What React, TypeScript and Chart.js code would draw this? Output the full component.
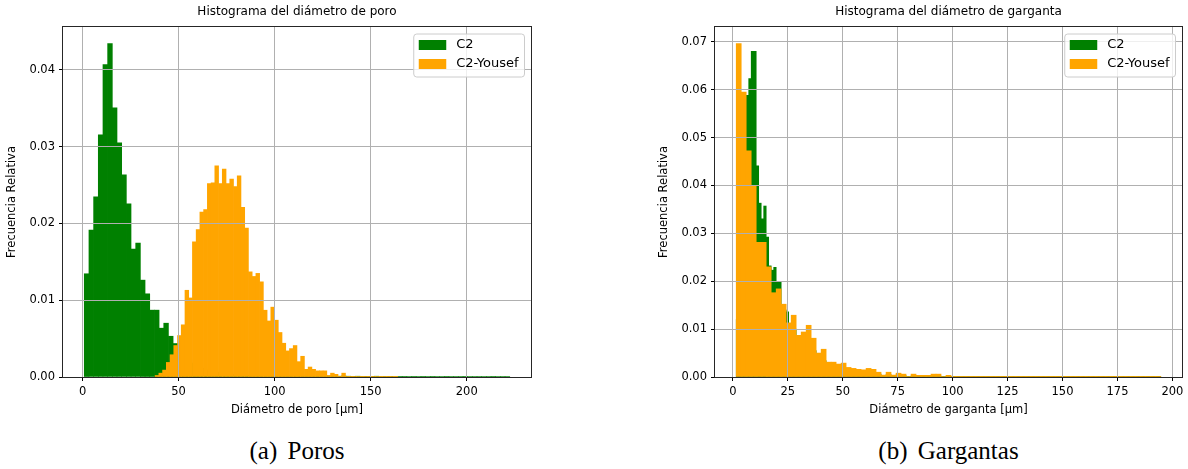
import React, { useEffect, useRef } from 'react';
import { Chart, registerables } from 'chart.js';

Chart.register(...registerables);

const FONT = "'DejaVu Sans', sans-serif";
const GREEN = '#008000';
const ORANGE = '#ffa500';
const SERIES_LABELS = ['C2', 'C2-Yousef'];
const Y_LABEL = 'Frecuencia Relativa';

// ---------- (a) Poros ----------
const poreTitle = 'Histograma del diámetro de poro';
const poreXLabel = 'Diámetro de poro [μm]';
const poreCaption = '(a) Poros';

// C2: 91 bins between 0.89 and 222.38 µm
const poreC2Range = [0.89, 222.38];
const poreC2Bins = 91;
const poreC2 = [
  0.01345, 0.01915, 0.02346, 0.03155, 0.04069, 0.04343, 0.03508, 0.03051, 0.02633, 0.02255,
  0.01667, 0.01745, 0.01262, 0.01084, 0.00871, 0.00871, 0.00636, 0.00701, 0.00531, 0.00436,
  0.0035, 0.0029, 0.0023, 0.0018, 0.0014, 0.0011, 0.0009, 0.0007, 0.0006, 0.0005,
  0.0004, 0.00035, 0.0003, 0.00028, 0.00025, 0.00022, 0.0002, 0.0002, 0.00018, 0.00018,
  0.00017, 0.00016, 0.00016, 0.00015, 0.00015, 0.00014, 0.00014, 0.00013, 0.00013, 0.00012,
  0.00012, 0.00012, 0.00011, 0.00011, 0.0001, 0.00012, 0.0001, 0.00009, 0.0001, 0.00008,
  0.00009, 0.00008, 0.0001, 0.00007, 0.00008, 0.00009, 0.00007, 0.00008, 0.00008, 0.00006,
  0.00008, 0.00007, 0.00008, 0.00006, 0.00008, 0.00007, 0.00006, 0.00008, 0.00007, 0.00006,
  0.00007, 0.00008, 0.00006, 0.00007, 0.00006, 0.00007, 0.00006, 0.00005, 0.00007, 0.00006,
  0.00007,
];

// C2-Yousef: 65 bins between 37.77 and 164.07 µm
const poreYousefRange = [37.77, 164.07];
const poreYousefBins = 65;
const poreYousef = [
  0.0002, 0.0005, 0.0009, 0.0019, 0.0029, 0.0041, 0.0054, 0.0068, 0.0113, 0.0103,
  0.0176, 0.0192, 0.0215, 0.0218, 0.0252, 0.0253, 0.0275, 0.0252, 0.0271, 0.0252,
  0.0258, 0.0248, 0.0262, 0.0221, 0.0194, 0.0137, 0.0131, 0.0135, 0.0124, 0.0087,
  0.0073, 0.0091, 0.0074, 0.0058, 0.0044, 0.0034, 0.0037, 0.0041, 0.002, 0.0027,
  0.001, 0.0013, 0.001, 0.0008, 0.0008, 0.0008, 0.0002, 0.0005, 0.00035, 0.0001,
  0.0005, 0.00005, 0.00004, 0.00005, 0.00006, 0.00004, 0.00005, 0.00004, 0.00005, 0.00006,
  0.00004, 0.00005, 0.00004, 0.00005, 0.00004,
];

const poreXTicks = [0, 50, 100, 150, 200];
const poreYTicks = [0, 0.01, 0.02, 0.03, 0.04];

// ---------- (b) Gargantas ----------
const throatTitle = 'Histograma del diámetro de garganta';
const throatXLabel = 'Diámetro de garganta [μm]';
const throatCaption = '(b) Gargantas';

// both series share the range 1.56 – 194.70 µm
const throatRange = [1.56, 194.7];
const throatC2Bins = 170;
const throatC2 = [
  0.012, 0.041, 0.05, 0.054, 0.0588, 0.0623, 0.068, 0.068, 0.0441, 0.0363,
  0.033, 0.0357, 0.0292, 0.0232, 0.0223, 0.0229, 0.0198, 0.0198, 0.015, 0.014,
  0.0136, 0.0105, 0.011, 0.01, 0.008, 0.0075, 0.008, 0.0078, 0.0072, 0.0068,
  0.006, 0.0055, 0.0045, 0.004, 0.0038, 0.0034, 0.0028, 0.0026, 0.0024, 0.0022,
  0.002, 0.0019, 0.0018, 0.0016, 0.0015, 0.0014, 0.0013, 0.0012, 0.0011, 0.001,
  0.001, 0.0009, 0.0009, 0.0008, 0.0008, 0.0007, 0.0007, 0.0006, 0.0003, 0.0003,
  0.0005, 0.0005, 0.0003, 0.0003, 0.0004, 0.0004, 0.0003, 0.0003, 0.0001, 0.0001,
  0.0002, 0.0002, 0.00015, 0.00015, 0.00015, 0.00015, 0.00015, 0.00015, 0.0002, 0.0002,
  0.0002, 0.0002, 0.00008, 0.00008, 0.0001, 0.0001, 0.00006, 0.00007, 0.00006, 0.00005,
  0.00007, 0.00006, 0.00006, 0.00005, 0.00007, 0.00006, 0.00005, 0.00006, 0.00007, 0.00006,
  0.00005, 0.00006, 0.00007, 0.00005, 0.00006, 0.00006, 0.00005, 0.00007, 0.00006, 0.00005,
  0.00006, 0.00007, 0.00006, 0.00005, 0.00006, 0.00005, 0.00007, 0.00006, 0.00005, 0.00006,
  0.00007, 0.00006, 0.00005, 0.00006, 0.00005, 0.00006, 0.00007, 0.00005, 0.00006, 0.00006,
  0.00005, 0.00007, 0.00006, 0.00005, 0.00006, 0.00007, 0.00006, 0.00005, 0.00006, 0.00005,
  0.00007, 0.00006, 0.00005, 0.00006, 0.00007, 0.00006, 0.00005, 0.00006, 0.00005, 0.00006,
  0.00007, 0.00005, 0.00006, 0.00006, 0.00005, 0.00007, 0.00006, 0.00005, 0.00006, 0.00007,
  0.00006, 0.00005, 0.00006, 0.00005, 0.00007, 0.00006, 0.00005, 0.00006, 0.00007, 0.00006,
];
const throatYousefBins = 85;
const throatYousef = [
  0.0696, 0.0595, 0.0472, 0.04, 0.0281, 0.0281, 0.023, 0.0176, 0.0184, 0.0152,
  0.0113, 0.0129, 0.0087, 0.0094, 0.0108, 0.0081, 0.005, 0.0058, 0.0031, 0.0031,
  0.0027, 0.0029, 0.002, 0.0018, 0.0016, 0.0015, 0.0018, 0.0016, 0.001, 0.0004,
  0.001, 0.0004, 0.0008, 0.0006, 0.0001, 0.0006, 0.00035, 0.00035, 0.00035, 0.0006,
  0.0006, 0.0001, 0.00035, 0.00005, 0.00004, 0.00006, 0.00005, 0.00004, 0.00005, 0.00006,
  0.00004, 0.00005, 0.00004, 0.00006, 0.00005, 0.00004, 0.00005, 0.00006, 0.00004, 0.00005,
  0.00004, 0.00005, 0.00006, 0.00004, 0.00005, 0.00004, 0.00006, 0.00005, 0.00004, 0.00005,
  0.00006, 0.00004, 0.00005, 0.00004, 0.00006, 0.00005, 0.00004, 0.00005, 0.00004, 0.00006,
  0.00005, 0.00004, 0.00005, 0.00004, 0.00005,
];

const throatXTicks = [0, 25, 50, 75, 100, 125, 150, 175, 200];
const throatYTicks = [0, 0.01, 0.02, 0.03, 0.04, 0.05, 0.06, 0.07];

// ---------- helpers ----------
function binCenters(lo: number, hi: number, bins: number) {
  const w = (hi - lo) / bins;
  return Array.from({ length: bins }, (_, i) => lo + w * (i + 0.5));
}

// full box frame around the plotting area
const axesFrame = {
  id: 'axesFrame',
  afterDraw(chart: any) {
    const { ctx, chartArea } = chart;
    const l = Math.round(chartArea.left);
    const t = Math.round(chartArea.top);
    const r = Math.round(chartArea.right);
    const b = Math.round(chartArea.bottom);
    ctx.save();
    ctx.strokeStyle = '#262626';
    ctx.lineWidth = 1;
    ctx.strokeRect(l - 0.5, t - 0.5, r - l + 1, b - t + 1);
    ctx.restore();
  },
};

// legend drawn inside the upper-right corner of the plotting area
const insetLegend = {
  id: 'insetLegend',
  afterDraw(chart: any) {
    const { ctx, chartArea } = chart;
    const items = chart.data.datasets.map((d: any) => ({ label: d.label, color: d.backgroundColor }));
    ctx.save();
    ctx.font = `13px ${FONT}`;
    const textW = Math.max(...items.map((it: any) => ctx.measureText(it.label).width));
    const w = 42.5 + textW + 6;
    const h = 43;
    const x = chartArea.right - 6.5 - w;
    const y = chartArea.top + 7;
    ctx.beginPath();
    if (ctx.roundRect) ctx.roundRect(x, y, w, h, 3);
    else ctx.rect(x, y, w, h);
    ctx.fillStyle = 'rgba(255,255,255,0.8)';
    ctx.fill();
    ctx.strokeStyle = '#cccccc';
    ctx.lineWidth = 1;
    ctx.stroke();
    items.forEach((it: any, i: number) => {
      const cy = y + 11 + i * 19;
      ctx.fillStyle = it.color;
      ctx.fillRect(x + 5, cy - 5, 27.5, 10);
      ctx.fillStyle = '#000';
      ctx.textAlign = 'left';
      ctx.textBaseline = 'middle';
      ctx.fillText(it.label, x + 42.5, cy);
    });
    ctx.restore();
  },
};

type Series = { label: string; color: string; range: number[]; bins: number; values: number[] };

function buildConfig(p: {
  title: string;
  xLabel: string;
  series: Series[];
  xTicks: number[];
  yTicks: number[];
  rightPad: number;
}) {
  const lo = Math.min(...p.series.map((s) => s.range[0]));
  const hi = Math.max(...p.series.map((s) => s.range[1]));
  const margin = 0.05 * (hi - lo);
  const xmin = lo - margin;
  const xmax = hi + margin;
  const ymax = 1.05 * Math.max(...p.series.flatMap((s) => s.values));

  const tickFont = { family: FONT, size: 11.5 };
  const grid = {
    z: 1,
    offset: false,
    color: '#b0b0b0',
    lineWidth: 1,
    drawTicks: true,
    tickLength: 4,
    tickColor: '#000',
    tickWidth: 1,
  };

  const datasets = p.series.map((s, i) => {
    const centers = binCenters(s.range[0], s.range[1], s.bins);
    return {
      label: s.label,
      data: centers.map((x, j) => ({ x, y: s.values[j] })),
      backgroundColor: s.color,
      borderWidth: 0,
      barPercentage: 1,
      categoryPercentage: 1,
      grouped: false,
      xAxisID: i === 0 ? 'x' : 'x2',
      // the later series is painted over the earlier one
      order: p.series.length - 1 - i,
    };
  });

  return {
    type: 'bar',
    data: { datasets },
    plugins: [axesFrame, insetLegend],
    options: {
      animation: false,
      responsive: false,
      devicePixelRatio: 1,
      layout: { padding: { left: 0, right: p.rightPad, top: 0, bottom: 0 } },
      plugins: {
        legend: { display: false },
        tooltip: { enabled: false },
        title: {
          display: true,
          text: p.title,
          color: '#000',
          fullSize: false,
          font: { family: FONT, size: 12, weight: 'normal' },
          padding: { top: 4.5, bottom: 8.1 },
        },
      },
      scales: {
        x: {
          type: 'linear',
          position: 'bottom',
          min: xmin,
          max: xmax,
          offset: false,
          grid,
          border: { display: false },
          ticks: {
            color: '#000',
            font: tickFont,
            padding: 4,
            autoSkip: false,
            maxRotation: 0,
            includeBounds: false,
          },
          afterBuildTicks: (scale: any) => {
            scale.ticks = p.xTicks.map((v) => ({ value: v }));
          },
          afterFit: (scale: any) => {
            scale.height = 43;
            scale.paddingLeft = 0;
            scale.paddingRight = 0;
          },
          title: {
            display: true,
            text: p.xLabel,
            color: '#000',
            font: { family: FONT, size: 11.5 },
            padding: { top: 0, bottom: 3 },
          },
        },
        x2: {
          type: 'linear',
          position: 'bottom',
          display: false,
          min: xmin,
          max: xmax,
          offset: false,
          grid: { offset: false },
        },
        y: {
          type: 'linear',
          position: 'left',
          min: 0,
          max: ymax,
          grid,
          border: { display: false },
          ticks: {
            color: '#000',
            font: tickFont,
            padding: 4,
            callback: (v: any) => Number(v).toFixed(2),
          },
          afterBuildTicks: (scale: any) => {
            scale.ticks = p.yTicks.map((v) => ({ value: v }));
          },
          afterFit: (scale: any) => {
            scale.width = 63;
            scale.paddingTop = 0;
            scale.paddingBottom = 0;
          },
          title: {
            display: true,
            text: Y_LABEL,
            color: '#000',
            font: { family: FONT, size: 11.5 },
            padding: { top: 5, bottom: 0 },
          },
        },
      },
    },
  };
}

function HistogramPanel(props: { left: number; width: number; height: number; makeConfig: () => any }) {
  const ref = useRef<HTMLCanvasElement | null>(null);
  useEffect(() => {
    if (!ref.current) return;
    const chart = new Chart(ref.current, props.makeConfig());
    return () => chart.destroy();
  }, []);
  return (
    <canvas
      ref={ref}
      width={props.width}
      height={props.height}
      style={{ position: 'absolute', left: props.left, top: 0, width: props.width, height: props.height }}
    />
  );
}

const captionStyle: React.CSSProperties = {
  position: 'absolute',
  top: 437,
  height: 28,
  lineHeight: '28px',
  textAlign: 'center',
  fontFamily: "'Liberation Serif', serif",
  fontSize: 25,
  wordSpacing: 4,
  color: '#000',
  whiteSpace: 'nowrap',
};

export default function App() {
  const poreConfig = () =>
    buildConfig({
      title: poreTitle,
      xLabel: poreXLabel,
      series: [
        { label: SERIES_LABELS[0], color: GREEN, range: poreC2Range, bins: poreC2Bins, values: poreC2 },
        { label: SERIES_LABELS[1], color: ORANGE, range: poreYousefRange, bins: poreYousefBins, values: poreYousef },
      ],
      xTicks: poreXTicks,
      yTicks: poreYTicks,
      rightPad: 63,
    });

  const throatConfig = () =>
    buildConfig({
      title: throatTitle,
      xLabel: throatXLabel,
      series: [
        { label: SERIES_LABELS[0], color: GREEN, range: throatRange, bins: throatC2Bins, values: throatC2 },
        { label: SERIES_LABELS[1], color: ORANGE, range: throatRange, bins: throatYousefBins, values: throatYousef },
      ],
      xTicks: throatXTicks,
      yTicks: throatYTicks,
      rightPad: 6,
    });

  return (
    <div style={{ position: 'absolute', left: 0, top: 0, width: 1188, height: 469, background: '#fff', overflow: 'hidden' }}>
      <HistogramPanel left={0} width={594} height={420} makeConfig={poreConfig} />
      <HistogramPanel left={652} width={536} height={420} makeConfig={throatConfig} />
      <div style={{ ...captionStyle, left: 63, width: 468 }}>{poreCaption}</div>
      <div style={{ ...captionStyle, left: 715, width: 467 }}>{throatCaption}</div>
    </div>
  );
}
